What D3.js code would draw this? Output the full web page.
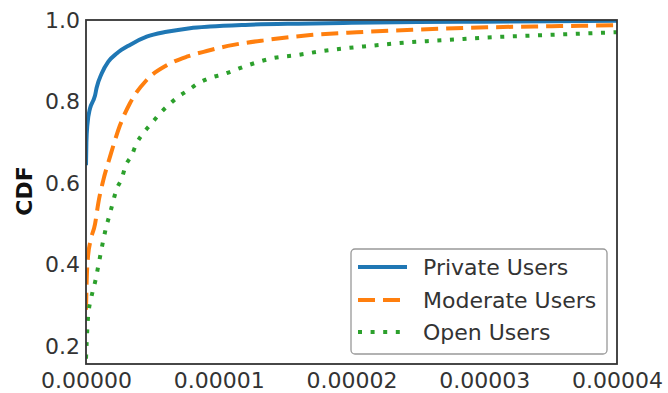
<!DOCTYPE html>
<html><head><meta charset="utf-8">
<script src="https://cdn.jsdelivr.net/npm/d3@7"></script>
<style>
html,body{margin:0;padding:0;background:#fff;}
svg{display:block;font-family:"DejaVu Sans",sans-serif;}
</style></head>
<body>
<svg id="chart" width="668" height="393"></svg>
<script>
// x values in units of 1e-6
const privateX = [0, 0.03, 0.1, 0.3, 0.55, 0.68, 0.8, 1.18, 1.68, 2.31, 3.31, 4.57, 6.08, 7.83, 9.34, 12, 16, 20, 25, 30, 35, 40];
const privateY = [0.644, 0.70, 0.742, 0.783, 0.803, 0.815, 0.834, 0.869, 0.898, 0.918, 0.939, 0.959, 0.971, 0.980, 0.984, 0.988, 0.991, 0.993, 0.995, 0.996, 0.997, 0.998];

const moderateX = [0, 0.05, 0.15, 0.35, 0.68, 0.93, 1.3, 1.81, 2.56, 3.31, 4.57, 6.08, 7.59, 9.09, 11.1, 13.6, 16.9, 20.4, 24.6, 30.2, 35.7, 40];
const moderateY = [0.29, 0.36, 0.42, 0.46, 0.50, 0.552, 0.607, 0.665, 0.742, 0.796, 0.853, 0.889, 0.910, 0.924, 0.939, 0.951, 0.963, 0.970, 0.976, 0.982, 0.985, 0.987];

const openX = [0, 0.05, 0.15, 0.4, 0.7, 1.0, 1.3, 1.5, 1.8, 2.0, 2.3, 2.7, 2.95, 3.45, 3.8, 4.3, 4.95, 5.57, 6.2, 6.95, 7.7, 8.46, 9.34, 10.34, 12.1, 14.0, 15.9, 17.8, 19.6, 21.5, 23.4, 27.2, 30.1, 33.8, 37.6, 40];
const openY = [0.17, 0.21, 0.27, 0.32, 0.36, 0.41, 0.46, 0.49, 0.525, 0.55, 0.585, 0.612, 0.64, 0.669, 0.697, 0.722, 0.747, 0.771, 0.791, 0.812, 0.828, 0.845, 0.858, 0.867, 0.888, 0.906, 0.914, 0.924, 0.931, 0.937, 0.943, 0.951, 0.957, 0.962, 0.967, 0.970];

const seriesNames = ["Private Users", "Moderate Users", "Open Users"];
const seriesColors = ["#1f77b4", "#ff7f0e", "#2ca02c"];
const seriesDash = [null, "17,8", "4,8.6"];
const xTicks = [0, 0.00001, 0.00002, 0.00003, 0.00004];
const xTickLabels = ["0.00000", "0.00001", "0.00002", "0.00003", "0.00004"];
const yTicks = [0.2, 0.4, 0.6, 0.8, 1.0];
const yTickLabels = ["0.2", "0.4", "0.6", "0.8", "1.0"];
const yLabel = "CDF";

const svg = d3.select("#chart");
const L = 86, R = 617, T = 20, B = 364;
const x = d3.scaleLinear().domain([0, 0.00004]).range([L, R]);
const y = d3.scaleLinear().domain([0.157, 1.0]).range([B, T]);

svg.append("defs").append("clipPath").attr("id", "clip")
  .append("rect").attr("x", L).attr("y", T).attr("width", R - L).attr("height", B - T);

const xs = [privateX, moderateX, openX];
const ys = [privateY, moderateY, openY];
const line = d3.line().x(d => x(d[0] * 1e-6)).y(d => y(d[1])).curve(d3.curveMonotoneX);

const g = svg.append("g").attr("clip-path", "url(#clip)");
xs.forEach((xv, i) => {
  const pts = xv.map((v, j) => [v, ys[i][j]]);
  g.append("path").attr("d", line(pts)).attr("fill", "none")
    .attr("stroke", seriesColors[i]).attr("stroke-width", 4)
    .attr("stroke-dasharray", seriesDash[i]).attr("stroke-linecap", "butt");
});

// spines
svg.append("rect").attr("x", L).attr("y", T).attr("width", R - L).attr("height", B - T)
  .attr("fill", "none").attr("stroke", "#333").attr("stroke-width", 1.8);

// axes
const xAxis = d3.axisBottom(x).tickValues(xTicks).tickFormat((d, i) => xTickLabels[i]).tickSize(0).tickPadding(8);
const yAxis = d3.axisLeft(y).tickValues(yTicks).tickFormat((d, i) => yTickLabels[i]).tickSize(0).tickPadding(6);
const gx = svg.append("g").attr("transform", `translate(0,${B})`).call(xAxis);
const gy = svg.append("g").attr("transform", `translate(${L},0)`).call(yAxis);
[gx, gy].forEach(a => {
  a.select(".domain").remove();
  a.selectAll("text").attr("font-family", "DejaVu Sans").attr("font-size", 22).attr("fill", "#333");
});

svg.append("text").attr("transform", "translate(32,191) rotate(-90)")
  .attr("text-anchor", "middle").attr("font-size", 22).attr("font-weight", "bold")
  .attr("fill", "#111").text(yLabel);

// legend
const lg = svg.append("g");
lg.append("rect").attr("x", 351).attr("y", 249).attr("width", 256).attr("height", 105)
  .attr("rx", 4).attr("fill", "#fff").attr("fill-opacity", 0.9).attr("stroke", "#999").attr("stroke-width", 1.3);
const rowY = [267, 300, 332];
seriesNames.forEach((n, i) => {
  lg.append("line").attr("x1", 358).attr("x2", 407).attr("y1", rowY[i]).attr("y2", rowY[i])
    .attr("stroke", seriesColors[i]).attr("stroke-width", 4).attr("stroke-dasharray", seriesDash[i]);
  lg.append("text").attr("x", 423).attr("y", rowY[i]).attr("dy", "0.35em")
    .attr("font-size", 22).attr("fill", "#333").text(n);
});
</script>
</body></html>
